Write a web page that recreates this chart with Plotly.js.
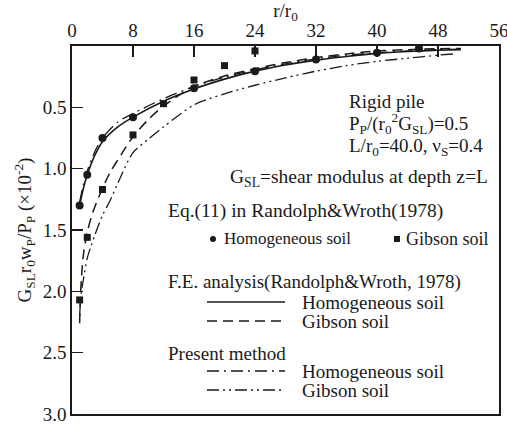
<!DOCTYPE html>
<html>
<head>
<meta charset="utf-8">
<script src="https://cdn.plot.ly/plotly-3.0.1.min.js"></script>
<style>
  html, body { margin: 0; padding: 0; background: #fff; }
  #chart { width: 507px; height: 424px; }
  /* every label of the figure is set in a Times-style serif */
  #chart svg text { font-family: 'Liberation Serif', 'Times New Roman', serif !important; }
</style>
</head>
<body>
<div id="chart"></div>
<script>
// Settlement profile around a rigid pile: normalised displacement vs radial distance r/r0

// Eq.(11) in Randolph & Wroth (1978) - point values
const eqHomoR = [1, 2, 4, 8, 16, 24, 32, 40, 45.5];
const eqHomoW = [1.30, 1.05, 0.75, 0.58, 0.345, 0.205, 0.11, 0.055, 0.02];
const eqGibsonR = [1, 2, 4, 8, 12, 16, 20, 24];
const eqGibsonW = [2.07, 1.56, 1.17, 0.725, 0.47, 0.277, 0.16, 0.04];

// F.E. analysis (Randolph & Wroth, 1978)
const feHomoR = [1, 1.5, 2, 3, 4, 6, 8, 12, 16, 20, 24, 28, 32, 36, 40, 44, 48, 51];
const feHomoW = [1.30, 1.16, 1.05, 0.89, 0.78, 0.66, 0.58, 0.45, 0.35, 0.27, 0.205, 0.155, 0.115, 0.085, 0.06, 0.045, 0.035, 0.03];
const feGibsonR = [1.0, 1.1, 1.25, 1.5, 2.0, 2.5, 3, 4, 5, 6, 8, 10, 12, 16, 20, 24, 28, 32, 36, 40, 44, 48, 51];
const feGibsonW = [2.26, 2.05, 1.88, 1.70, 1.52, 1.40, 1.31, 1.16, 1.03, 0.93, 0.74, 0.60, 0.49, 0.33, 0.245, 0.185, 0.135, 0.095, 0.065, 0.04, 0.03, 0.022, 0.02];

// Present method
const pmHomoR = [1, 1.5, 2, 3, 4, 6, 8, 12, 16, 20, 24, 28, 32, 36, 40, 44, 48, 51];
const pmHomoW = [1.27, 1.13, 1.02, 0.86, 0.75, 0.62, 0.55, 0.43, 0.33, 0.255, 0.195, 0.145, 0.105, 0.075, 0.055, 0.04, 0.03, 0.025];
const pmGibsonR = [1.0, 1.2, 1.5, 2, 2.5, 3, 4, 5, 6, 8, 10, 12, 16, 20, 24, 28, 32, 36, 40, 44, 48, 50];
const pmGibsonW = [2.20, 2.02, 1.90, 1.73, 1.63, 1.54, 1.38, 1.26, 1.12, 0.87, 0.76, 0.66, 0.48, 0.39, 0.32, 0.26, 0.205, 0.16, 0.125, 0.10, 0.075, 0.065];

// Axis ticks
const xTicks = [0, 8, 16, 24, 32, 40, 48, 56];
const yTicks = [0.5, 1.0, 1.5, 2.0, 2.5, 3.0];
const yTickText = ['0.5', '1.0', '1.5', '2.0', '2.5', '3.0'];

const FONT = 'Liberation Serif, Times New Roman, Times, serif';
const INK = '#1a1a1a';

// Dash patterns
const DASH = '10px,6px';
const DASHDOT = '12px,5px,2px,5px';
const DASHDOTDOT = '12px,4px,2px,4px,2px,4px';

// Page/plot geometry in pixels
const W = 507, H = 424;
const M = { l: 72, r: 8, t: 46, b: 10 };
const px = x => (x - M.l) / (W - M.l - M.r);
const py = y => (H - M.b - y) / (H - M.t - M.b);

const lineTrace = (x, y, dash, width) => ({
  x: x, y: y, type: 'scatter', mode: 'lines',
  line: { color: INK, width: width, dash: dash, shape: 'spline', smoothing: 0.8 },
  hoverinfo: 'skip', showlegend: false
});

const traces = [
  lineTrace(feHomoR, feHomoW, 'solid', 1.6),
  lineTrace(feGibsonR, feGibsonW, DASH, 1.5),
  lineTrace(pmHomoR, pmHomoW, DASHDOT, 1.3),
  lineTrace(pmGibsonR, pmGibsonW, DASHDOTDOT, 1.3),
  { x: eqHomoR, y: eqHomoW, type: 'scatter', mode: 'markers',
    marker: { symbol: 'circle', size: 8, color: INK }, showlegend: false },
  { x: eqGibsonR, y: eqGibsonW, type: 'scatter', mode: 'markers',
    marker: { symbol: 'square', size: 7, color: INK }, showlegend: false }
];

// Text block on the right of the plot
const note = (x, y, text, anchor, size) => ({
  xref: 'paper', yref: 'paper', x: px(x), y: py(y), text: text,
  showarrow: false, xanchor: anchor || 'left', yanchor: 'middle',
  font: { family: FONT, size: size || 19, color: INK }
});

const annotations = [
  note(347, 101, 'Rigid pile'),
  note(347, 123, 'P<sub>P</sub>/(r<sub>0</sub><sup>2</sup>G<sub>SL</sub>)=0.5'),
  note(347, 147, 'L/r<sub>0</sub>=40.0, ν<sub>S</sub>=0.4'),
  note(490, 178, 'G<sub>SL</sub>=shear modulus at depth z=L', 'right', 19.5),
  note(166, 211, 'Eq.(11) in Randolph&amp;Wroth(1978)', 'left', 19.5),
  note(222, 239, 'Homogeneous soil', 'left', 17),
  note(404, 239, 'Gibson soil', 'left', 18),
  note(166, 282, 'F.E. analysis(Randolph&amp;Wroth, 1978)'),
  note(300, 302, 'Homogeneous soil'),
  note(300, 321, 'Gibson soil'),
  note(166, 353, 'Present method'),
  note(300, 371, 'Homogeneous soil'),
  note(300, 390, 'Gibson soil')
];

// Legend sample lines and marker keys
const keyLine = (y, dash, width) => ({
  type: 'line', xref: 'paper', yref: 'paper',
  x0: px(207), x1: px(285), y0: py(y), y1: py(y),
  line: { color: INK, width: width, dash: dash }
});
const shapes = [
  keyLine(302, 'solid', 1.6),
  keyLine(321, DASH, 1.5),
  keyLine(371, DASHDOT, 1.3),
  keyLine(390, DASHDOTDOT, 1.3),
  { type: 'circle', xref: 'paper', yref: 'paper',
    x0: px(210), x1: px(216), y0: py(236), y1: py(242),
    fillcolor: INK, line: { width: 0 } },
  { type: 'rect', xref: 'paper', yref: 'paper',
    x0: px(394), x1: px(400), y0: py(236), y1: py(242),
    fillcolor: INK, line: { width: 0 } }
];

const layout = {
  width: W, height: H,
  margin: M,
  paper_bgcolor: '#fff', plot_bgcolor: '#fff',
  font: { family: FONT, size: 19, color: INK },
  showlegend: false,
  xaxis: {
    side: 'top', range: [0, 56], tickvals: xTicks,
    ticks: 'inside', ticklen: 11, tickwidth: 1.5, tickcolor: INK,
    ticklabeloverflow: 'allow',
    showline: true, linecolor: INK, linewidth: 1.6, mirror: true,
    showgrid: false, zeroline: false,
    tickfont: { family: FONT, size: 19, color: INK },
    title: { text: 'r/r<sub>0</sub>', font: { family: FONT, size: 19, color: INK }, standoff: 4 }
  },
  yaxis: {
    range: [3, 0], tickvals: yTicks, ticktext: yTickText,
    ticks: 'inside', ticklen: 11, tickwidth: 1.5, tickcolor: INK,
    ticklabeloverflow: 'allow',
    showline: true, linecolor: INK, linewidth: 1.6, mirror: true,
    showgrid: false, zeroline: false,
    tickfont: { family: FONT, size: 19, color: INK },
    title: { text: 'G<sub>SL</sub>r<sub>0</sub>w<sub>P</sub>/P<sub>P</sub> (×10<sup>-2</sup>)',
             font: { family: FONT, size: 19, color: INK }, standoff: 6 }
  },
  annotations: annotations,
  shapes: shapes
};

Plotly.newPlot('chart', traces, layout, { staticPlot: true, displayModeBar: false });
</script>
</body>
</html>
